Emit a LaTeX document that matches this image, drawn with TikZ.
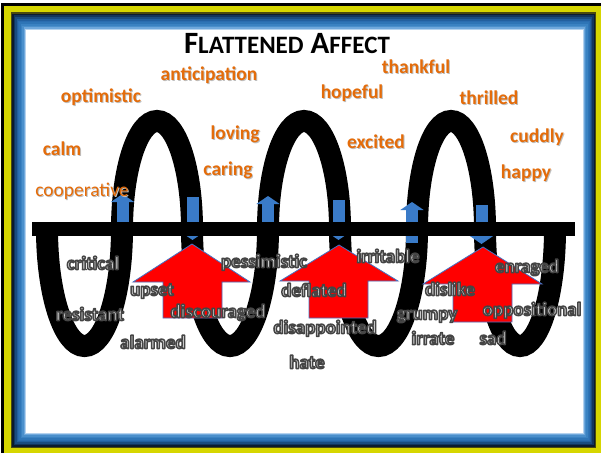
\documentclass[tikz,border=0pt]{standalone}
\usepackage{fontspec}
\setmainfont{Carlito}
\usetikzlibrary{arrows.meta}
\definecolor{wordorange}{HTML}{E46C0A}
\definecolor{wordgray}{HTML}{DCDCDC}
\definecolor{flowblue}{HTML}{3A7BC8}
\definecolor{edgeblue}{HTML}{4472C4}
\definecolor{frameyellow}{HTML}{D6D600}
\newcommand{\shadowed}[1]{\makebox[0pt][l]{\hspace{1pt}\raisebox{-1pt}{\textcolor{black!25}{#1}}}#1}
\newcommand{\glowing}[1]{\special{pdf:literal direct 2 Tr 1.5 w 1 j 1 J 0.27 0.27 0.27 RG}#1\special{pdf:literal direct 0 Tr}}
\newcommand{\smallcapsword}[2]{{\fontsize{31}{33}\selectfont #1}{\fontsize{25}{27}\selectfont #2}}

\begin{document}
\begin{tikzpicture}[x=1pt, y=-1pt]
	% Styles
	\tikzstyle{coil} = [black, line width=22pt]
	\tikzstyle{flow} = [flowblue, line width=12pt, -{Triangle[width=23pt, length=8pt]}]
	\tikzstyle{lift} = [fill=red, draw=edgeblue, line width=0.8pt, line join=miter]
	\tikzstyle{glad} = [text=wordorange, font=\bfseries\fontsize{19.5}{20}\selectfont, inner sep=0pt, text height=13pt, text depth=4pt]
	\tikzstyle{calmword} = [glad, font=\fontsize{19.5}{20}\selectfont]
	\tikzstyle{glum} = [text=wordgray, font=\bfseries\fontsize{19}{20}\selectfont, inner sep=0pt, text height=13pt, text depth=4pt]
	
	\useasboundingbox (0,0) rectangle (601,453);
	
	% Frame
	\fill[black] (1,3) rectangle (601,453);
	\fill[frameyellow] (4,6) rectangle (601,453);
	\foreach \c [count=\i from 0] in {4A4A10,0B1B2E,12355C,1A4C80,22609F,2A6DB0,2E75B6,3A82C2,4A8FCB,6FA8DC,B4D2EE} {
		\definecolor{bandcolor}{HTML}{\c}
		\fill[bandcolor] (11+1.4*\i,12+1.7*\i) rectangle (596-1.2*\i,448-1.4*\i);
	}
	\fill[white] (26,30) rectangle (583,433);
	
	% Title
	\node[anchor=base, font=\bfseries] (title) at (287,53) {\smallcapsword{F}{LATTENED}\hspace{7pt}\smallcapsword{A}{FFECT}};
	
	% Coil
	\draw[coil] (47,229)
		arc[start angle=180, end angle=0, x radius=37.5, y radius=117]
		arc[start angle=180, end angle=360, x radius=35, y radius=108]
		arc[start angle=180, end angle=0, x radius=38, y radius=117]
		arc[start angle=180, end angle=360, x radius=36, y radius=108]
		arc[start angle=180, end angle=0, x radius=38.5, y radius=117]
		arc[start angle=180, end angle=360, x radius=34, y radius=108]
		arc[start angle=180, end angle=0, x radius=35, y radius=117];
	
	% Small arrows on the coil
	\draw[flow] (122.5,230) -- (122.5,194);
	\draw[flow] (268,230) -- (268,196);
	\draw[flow] (412,243) -- (412,202);
	\draw[flow] (192.5,197) -- (192.5,240);
	\draw[flow] (338.5,200) -- (338.5,240);
	\draw[flow] (481.5,205) -- (481.5,244);
	
	% Bar
	\fill[black] (32,222) rectangle (575,236);
	
	% Red arrows
	\draw[lift] (163,318) -- (163,282) -- (133,282) -- (192,244) -- (250,282) -- (222,282) -- (222,318) -- cycle;
	\draw[lift] (309,318) -- (309,281) -- (280,281) -- (339,245) -- (398,281) -- (368,281) -- (368,318) -- cycle;
	\draw[lift] (453,322) -- (453,284) -- (423,284) -- (483,247) -- (542,284) -- (512,284) -- (512,322) -- cycle;
	
	% Upper words
	\node[glad] (anticipation) at (209,76) {\shadowed{anticipation}};
	\node[glad] (optimistic) at (101,98) {\shadowed{optimistic}};
	\node[glad] (thankful) at (416,69) {\shadowed{thankful}};
	\node[glad] (hopeful) at (352,94) {\shadowed{hopeful}};
	\node[glad] (thrilled) at (489,100) {\shadowed{thrilled}};
	\node[glad] (calm) at (62,151) {\shadowed{calm}};
	\node[glad] (loving) at (235,135) {\shadowed{loving}};
	\node[glad] (caring) at (228,171) {\shadowed{caring}};
	\node[glad] (excited) at (376,144) {\shadowed{excited}};
	\node[glad] (cuddly) at (537,138) {\shadowed{cuddly}};
	\node[glad] (happy) at (526,174) {\shadowed{happy}};
	\node[calmword] (cooperative) at (82,192) {\shadowed{cooperative}};
	
	% Lower words
	\node[glum] (critical) at (93,265) {\glowing{critical}};
	\node[glum] (upset) at (152,291) {\glowing{upset}};
	\node[glum] (resistant) at (90,316) {\glowing{resistant}};
	\node[glum] (discouraged) at (218,313) {\glowing{discouraged}};
	\node[glum] (alarmed) at (153,344) {\glowing{alarmed}};
	\node[glum] (pessimistic) at (264,263) {\glowing{pessimistic}};
	\node[glum] (deflated) at (314,292) {\glowing{deflated}};
	\node[glum] (disappointed) at (325,329) {\glowing{disappointed}};
	\node[glum] (hate) at (307,364) {\glowing{hate}};
	\node[glum] (irritable) at (388,258) {\glowing{irritable}};
	\node[glum] (dislike) at (450,291) {\glowing{dislike}};
	\node[glum] (grumpy) at (427,315) {\glowing{grumpy}};
	\node[glum] (irrate) at (433,340) {\glowing{irrate}};
	\node[glum] (enraged) at (527,268) {\glowing{enraged}};
	\node[glum] (oppositional) at (532,311) {\glowing{oppositional}};
	\node[glum] (sad) at (493,340) {\glowing{sad}};
\end{tikzpicture}
\end{document}
